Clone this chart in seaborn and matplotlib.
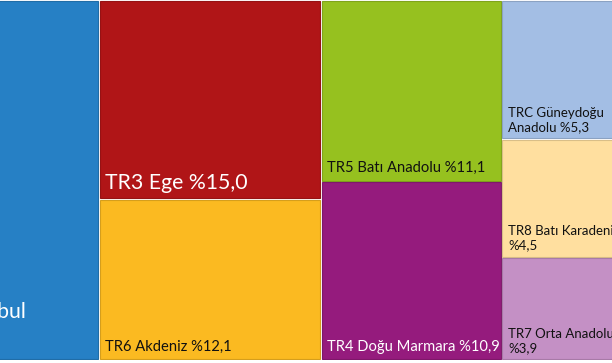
import matplotlib
matplotlib.use("Agg")
import matplotlib.pyplot as plt
import matplotlib.colors as mcolors
from matplotlib.patches import Rectangle
import seaborn as sns

# ---- data ----
regions = ["TR1 İstanbul", "TR3 Ege", "TR6 Akdeniz", "TR5 Batı Anadolu",
           "TR4 Doğu Marmara", "TRC Güneydoğu\nAnadolu", "TR8 Batı Karadeniz",
           "TR7 Orta Anadolu"]
shares = [24.1, 15.0, 12.1, 11.1, 10.9, 5.3, 4.5, 3.9]
columns = [[0], [1, 2], [3, 4], [5, 6, 7]]

# ---- style ----
fills = ["#2680C5", "#B01517", "#FBBA21", "#96C11F", "#951B7D",
         "#A3BEE4", "#FFDF9F", "#C490C5"]
text_colors = ["white", "white", "#111111", "#111111", "white",
               "#111111", "#111111", "#111111"]
font_sizes = [15.3, 15.3, 10.6, 10.6, 10.6, 9.5, 9.5, 9.5]
line_spacings = [1.75, 1.2, 1.2, 1.2, 1.2, 1.2, 1.2, 1.2]
break_before_value = [True, False, False, False, False, False, True, True]

sns.set_theme(style="white")
plt.rcParams["font.family"] = ["Lato", "DejaVu Sans"]

W, Hpx = 612, 363
fig = plt.figure(figsize=(W / 100, Hpx / 100), dpi=100)
fig.patch.set_facecolor("white")
ax = fig.add_axes([0, 3 / Hpx, 1, 360 / Hpx])

H = 43.9                      # layout height in value units
k = 360 / H                   # px per unit
gap = 0.8 / k

def fmt(v):
    return ("%" + f"{v:.1f}").replace(".", ",")

x = 0.0
for col in columns:
    total = sum(shares[i] for i in col)
    y = 0.0
    for i in col:
        h = shares[i] / total * H
        fc = fills[i]
        ec = tuple(c * 0.85 for c in mcolors.to_rgb(fc))
        ax.add_patch(Rectangle((x + gap, y + gap), total - 2 * gap, h - 2 * gap,
                               facecolor=fc, edgecolor=ec, linewidth=0.8))
        label = regions[i] + ("\n" if break_before_value[i] else " ") + fmt(shares[i])
        ax.annotate(label, xy=(x, y + h), xytext=(4.5, 4.5), textcoords="offset points",
                    ha="left", va="bottom", color=text_colors[i],
                    fontsize=font_sizes[i], linespacing=line_spacings[i],
                    annotation_clip=False, clip_on=True)
        y += h
    x += total

x0 = shares[0] - 99 / k
ax.set_xlim(x0, x0 + W / k)
ax.set_ylim(H, 0)
ax.axis("off")

fig.savefig("out.png", dpi=100, facecolor="white")
